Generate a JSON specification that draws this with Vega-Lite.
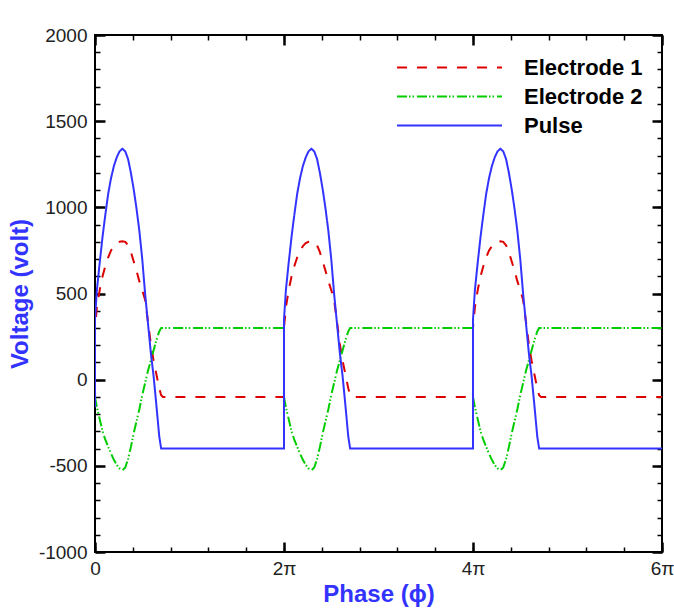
{
  "$schema": "https://vega.github.io/schema/vega-lite/v6.json",
  "width": 567,
  "height": 517,
  "autosize": {"type": "none"},
  "padding": {"left": 95, "top": 35, "right": 12, "bottom": 64},
  "background": "white",
  "config": {
    "view": {"stroke": "black", "strokeWidth": 2},
    "axis": {"grid": false, "domain": false, "tickColor": "black", "tickWidth": 2.5, "labelFlush": false,
      "labelFont": "Liberation Sans", "labelFontSize": 19, "labelColor": "#222"}
  },
  "data": {"values": [
    {"i": 0, "phase": 0, "Electrode 1": -100, "Electrode 2": -100, "Pulse": -160},
    {"i": 1, "phase": 0, "Electrode 1": 300, "Electrode 2": -100, "Pulse": 350},
    {"i": 2, "phase": 0.02, "Electrode 1": 420, "Electrode 2": -160, "Pulse": 520},
    {"i": 3, "phase": 0.05, "Electrode 1": 520, "Electrode 2": -230, "Pulse": 680},
    {"i": 4, "phase": 0.08, "Electrode 1": 600, "Electrode 2": -300, "Pulse": 830},
    {"i": 5, "phase": 0.11, "Electrode 1": 660, "Electrode 2": -350, "Pulse": 960},
    {"i": 6, "phase": 0.14, "Electrode 1": 710, "Electrode 2": -390, "Pulse": 1080},
    {"i": 7, "phase": 0.17, "Electrode 1": 750, "Electrode 2": -430, "Pulse": 1170},
    {"i": 8, "phase": 0.20, "Electrode 1": 775, "Electrode 2": -465, "Pulse": 1240},
    {"i": 9, "phase": 0.23, "Electrode 1": 792, "Electrode 2": -495, "Pulse": 1290},
    {"i": 10, "phase": 0.26, "Electrode 1": 800, "Electrode 2": -515, "Pulse": 1325},
    {"i": 11, "phase": 0.29, "Electrode 1": 803, "Electrode 2": -526, "Pulse": 1340},
    {"i": 12, "phase": 0.32, "Electrode 1": 800, "Electrode 2": -510, "Pulse": 1325},
    {"i": 13, "phase": 0.35, "Electrode 1": 780, "Electrode 2": -460, "Pulse": 1280},
    {"i": 14, "phase": 0.38, "Electrode 1": 740, "Electrode 2": -390, "Pulse": 1200},
    {"i": 15, "phase": 0.41, "Electrode 1": 686, "Electrode 2": -310, "Pulse": 1103},
    {"i": 16, "phase": 0.44, "Electrode 1": 630, "Electrode 2": -240, "Pulse": 990},
    {"i": 17, "phase": 0.47, "Electrode 1": 570, "Electrode 2": -170, "Pulse": 860},
    {"i": 18, "phase": 0.50, "Electrode 1": 520, "Electrode 2": -90, "Pulse": 700},
    {"i": 19, "phase": 0.53, "Electrode 1": 464, "Electrode 2": -20, "Pulse": 500},
    {"i": 20, "phase": 0.56, "Electrode 1": 340, "Electrode 2": 50, "Pulse": 330},
    {"i": 21, "phase": 0.59, "Electrode 1": 210, "Electrode 2": 110, "Pulse": 160},
    {"i": 22, "phase": 0.62, "Electrode 1": 110, "Electrode 2": 170, "Pulse": 20},
    {"i": 23, "phase": 0.65, "Electrode 1": 30, "Electrode 2": 230, "Pulse": -150},
    {"i": 24, "phase": 0.68, "Electrode 1": -50, "Electrode 2": 280, "Pulse": -330},
    {"i": 25, "phase": 0.70, "Electrode 1": -90, "Electrode 2": 300, "Pulse": -400},
    {"i": 26, "phase": 0.72, "Electrode 1": -100, "Electrode 2": 300, "Pulse": -400},
    {"i": 27, "phase": 2, "Electrode 1": -100, "Electrode 2": 300, "Pulse": -400},
    {"i": 28, "phase": 2, "Electrode 1": 300, "Electrode 2": -100, "Pulse": 350},
    {"i": 29, "phase": 2.02, "Electrode 1": 420, "Electrode 2": -160, "Pulse": 520},
    {"i": 30, "phase": 2.05, "Electrode 1": 520, "Electrode 2": -230, "Pulse": 680},
    {"i": 31, "phase": 2.08, "Electrode 1": 600, "Electrode 2": -300, "Pulse": 830},
    {"i": 32, "phase": 2.11, "Electrode 1": 660, "Electrode 2": -350, "Pulse": 960},
    {"i": 33, "phase": 2.14, "Electrode 1": 710, "Electrode 2": -390, "Pulse": 1080},
    {"i": 34, "phase": 2.17, "Electrode 1": 750, "Electrode 2": -430, "Pulse": 1170},
    {"i": 35, "phase": 2.20, "Electrode 1": 775, "Electrode 2": -465, "Pulse": 1240},
    {"i": 36, "phase": 2.23, "Electrode 1": 792, "Electrode 2": -495, "Pulse": 1290},
    {"i": 37, "phase": 2.26, "Electrode 1": 800, "Electrode 2": -515, "Pulse": 1325},
    {"i": 38, "phase": 2.29, "Electrode 1": 803, "Electrode 2": -526, "Pulse": 1340},
    {"i": 39, "phase": 2.32, "Electrode 1": 800, "Electrode 2": -510, "Pulse": 1325},
    {"i": 40, "phase": 2.35, "Electrode 1": 780, "Electrode 2": -460, "Pulse": 1280},
    {"i": 41, "phase": 2.38, "Electrode 1": 740, "Electrode 2": -390, "Pulse": 1200},
    {"i": 42, "phase": 2.41, "Electrode 1": 686, "Electrode 2": -310, "Pulse": 1103},
    {"i": 43, "phase": 2.44, "Electrode 1": 630, "Electrode 2": -240, "Pulse": 990},
    {"i": 44, "phase": 2.47, "Electrode 1": 570, "Electrode 2": -170, "Pulse": 860},
    {"i": 45, "phase": 2.50, "Electrode 1": 520, "Electrode 2": -90, "Pulse": 700},
    {"i": 46, "phase": 2.53, "Electrode 1": 464, "Electrode 2": -20, "Pulse": 500},
    {"i": 47, "phase": 2.56, "Electrode 1": 340, "Electrode 2": 50, "Pulse": 330},
    {"i": 48, "phase": 2.59, "Electrode 1": 210, "Electrode 2": 110, "Pulse": 160},
    {"i": 49, "phase": 2.62, "Electrode 1": 110, "Electrode 2": 170, "Pulse": 20},
    {"i": 50, "phase": 2.65, "Electrode 1": 30, "Electrode 2": 230, "Pulse": -150},
    {"i": 51, "phase": 2.68, "Electrode 1": -50, "Electrode 2": 280, "Pulse": -330},
    {"i": 52, "phase": 2.70, "Electrode 1": -90, "Electrode 2": 300, "Pulse": -400},
    {"i": 53, "phase": 2.72, "Electrode 1": -100, "Electrode 2": 300, "Pulse": -400},
    {"i": 54, "phase": 4, "Electrode 1": -100, "Electrode 2": 300, "Pulse": -400},
    {"i": 55, "phase": 4, "Electrode 1": 300, "Electrode 2": -100, "Pulse": 350},
    {"i": 56, "phase": 4.02, "Electrode 1": 420, "Electrode 2": -160, "Pulse": 520},
    {"i": 57, "phase": 4.05, "Electrode 1": 520, "Electrode 2": -230, "Pulse": 680},
    {"i": 58, "phase": 4.08, "Electrode 1": 600, "Electrode 2": -300, "Pulse": 830},
    {"i": 59, "phase": 4.11, "Electrode 1": 660, "Electrode 2": -350, "Pulse": 960},
    {"i": 60, "phase": 4.14, "Electrode 1": 710, "Electrode 2": -390, "Pulse": 1080},
    {"i": 61, "phase": 4.17, "Electrode 1": 750, "Electrode 2": -430, "Pulse": 1170},
    {"i": 62, "phase": 4.20, "Electrode 1": 775, "Electrode 2": -465, "Pulse": 1240},
    {"i": 63, "phase": 4.23, "Electrode 1": 792, "Electrode 2": -495, "Pulse": 1290},
    {"i": 64, "phase": 4.26, "Electrode 1": 800, "Electrode 2": -515, "Pulse": 1325},
    {"i": 65, "phase": 4.29, "Electrode 1": 803, "Electrode 2": -526, "Pulse": 1340},
    {"i": 66, "phase": 4.32, "Electrode 1": 800, "Electrode 2": -510, "Pulse": 1325},
    {"i": 67, "phase": 4.35, "Electrode 1": 780, "Electrode 2": -460, "Pulse": 1280},
    {"i": 68, "phase": 4.38, "Electrode 1": 740, "Electrode 2": -390, "Pulse": 1200},
    {"i": 69, "phase": 4.41, "Electrode 1": 686, "Electrode 2": -310, "Pulse": 1103},
    {"i": 70, "phase": 4.44, "Electrode 1": 630, "Electrode 2": -240, "Pulse": 990},
    {"i": 71, "phase": 4.47, "Electrode 1": 570, "Electrode 2": -170, "Pulse": 860},
    {"i": 72, "phase": 4.50, "Electrode 1": 520, "Electrode 2": -90, "Pulse": 700},
    {"i": 73, "phase": 4.53, "Electrode 1": 464, "Electrode 2": -20, "Pulse": 500},
    {"i": 74, "phase": 4.56, "Electrode 1": 340, "Electrode 2": 50, "Pulse": 330},
    {"i": 75, "phase": 4.59, "Electrode 1": 210, "Electrode 2": 110, "Pulse": 160},
    {"i": 76, "phase": 4.62, "Electrode 1": 110, "Electrode 2": 170, "Pulse": 20},
    {"i": 77, "phase": 4.65, "Electrode 1": 30, "Electrode 2": 230, "Pulse": -150},
    {"i": 78, "phase": 4.68, "Electrode 1": -50, "Electrode 2": 280, "Pulse": -330},
    {"i": 79, "phase": 4.70, "Electrode 1": -90, "Electrode 2": 300, "Pulse": -400},
    {"i": 80, "phase": 4.72, "Electrode 1": -100, "Electrode 2": 300, "Pulse": -400},
    {"i": 81, "phase": 6, "Electrode 1": -100, "Electrode 2": 300, "Pulse": -400}
  ]},
  "resolve": {"axis": {"x": "independent", "y": "independent"}},
  "layer": [
    {
      "transform": [{"fold": ["Electrode 1", "Electrode 2", "Pulse"], "as": ["series", "volt"]}],
      "mark": {"type": "line", "strokeWidth": 2, "clip": true},
      "encoding": {
        "x": {"field": "phase", "type": "quantitative",
          "scale": {"domain": [0, 6], "nice": false, "zero": false},
          "axis": {"orient": "bottom", "values": [0, 2, 4, 6], "ticks": false, "labelPadding": 7,
            "labelExpr": "datum.value == 0 ? '0' : datum.value + 'π'",
            "title": "Phase (ϕ)", "titleFont": "Liberation Sans", "titleFontSize": 24, "titleFontWeight": "bold",
            "titleColor": "#3333ff", "titlePadding": 4}},
        "y": {"field": "volt", "type": "quantitative",
          "scale": {"domain": [-1000, 2000], "nice": false, "zero": false},
          "axis": {"orient": "left", "values": [-1000, -500, 0, 500, 1000, 1500, 2000], "ticks": false, "labelPadding": 8,
            "labelExpr": "'' + datum.value",
            "title": "Voltage (volt)", "titleFont": "Liberation Sans", "titleFontSize": 24, "titleFontWeight": "bold",
            "titleColor": "#3333ff", "titlePadding": 6}},
        "color": {"field": "series", "type": "nominal",
          "scale": {"domain": ["Electrode 1", "Electrode 2", "Pulse"], "range": ["#dd0000", "#00cc00", "#3333ff"]},
          "legend": {"orient": "none", "legendX": 343, "legendY": 21, "title": null, "padding": 0,
            "symbolType": "M-5,0H5", "symbolSize": 441, "symbolStrokeWidth": 2,
            "labelFont": "Liberation Sans", "labelFontWeight": "bold", "labelFontSize": 22, "labelColor": "black",
            "labelOffset": 63, "rowPadding": 6}},
        "strokeDash": {"field": "series", "type": "nominal",
          "scale": {"domain": ["Electrode 1", "Electrode 2", "Pulse"], "range": [[10, 10], [10, 2, 1.5, 2, 1.5, 3], [1, 0]]},
          "legend": {"orient": "none", "legendX": 343, "legendY": 21, "title": null, "padding": 0,
            "symbolType": "M-5,0H5", "symbolSize": 441, "symbolStrokeWidth": 2,
            "labelFont": "Liberation Sans", "labelFontWeight": "bold", "labelFontSize": 22, "labelColor": "black",
            "labelOffset": 63, "rowPadding": 6}},
        "order": {"field": "i", "type": "quantitative"}
      }
    },
    {
      "mark": {"type": "point", "opacity": 0, "size": 1},
      "encoding": {
        "x": {"field": "phase", "type": "quantitative", "scale": {"domain": [0, 6], "nice": false, "zero": false},
          "axis": {"orient": "bottom", "values": [0, 2, 4, 6], "tickSize": -10, "labels": false, "title": null}},
        "y": {"field": "Pulse", "type": "quantitative", "scale": {"domain": [-1000, 2000], "nice": false, "zero": false},
          "axis": {"orient": "left", "values": [-1000, -500, 0, 500, 1000, 1500, 2000], "tickSize": -10, "labels": false, "title": null}}
      }
    },
    {
      "mark": {"type": "point", "opacity": 0, "size": 1},
      "encoding": {
        "x": {"field": "phase", "type": "quantitative", "scale": {"domain": [0, 6], "nice": false, "zero": false},
          "axis": {"orient": "bottom", "values": [0, 0.4, 0.8, 1.2, 1.6, 2, 2.4, 2.8, 3.2, 3.6, 4, 4.4, 4.8, 5.2, 5.6, 6], "tickSize": -5, "tickWidth": 1.5, "labels": false, "title": null}},
        "y": {"field": "Pulse", "type": "quantitative", "scale": {"domain": [-1000, 2000], "nice": false, "zero": false},
          "axis": {"orient": "left", "values": [-1000, -900, -800, -700, -600, -500, -400, -300, -200, -100, 0, 100, 200, 300, 400, 500, 600, 700, 800, 900, 1000, 1100, 1200, 1300, 1400, 1500, 1600, 1700, 1800, 1900, 2000], "tickSize": -5, "tickWidth": 1.5, "labels": false, "title": null}}
      }
    },
    {
      "mark": {"type": "point", "opacity": 0, "size": 1},
      "encoding": {
        "x": {"field": "phase", "type": "quantitative", "scale": {"domain": [0, 6], "nice": false, "zero": false},
          "axis": {"orient": "top", "values": [0, 2, 4, 6], "tickSize": -10, "labels": false, "title": null}},
        "y": {"field": "Pulse", "type": "quantitative", "scale": {"domain": [-1000, 2000], "nice": false, "zero": false},
          "axis": {"orient": "right", "values": [-1000, -500, 0, 500, 1000, 1500, 2000], "tickSize": -10, "labels": false, "title": null}}
      }
    },
    {
      "mark": {"type": "point", "opacity": 0, "size": 1},
      "encoding": {
        "x": {"field": "phase", "type": "quantitative", "scale": {"domain": [0, 6], "nice": false, "zero": false},
          "axis": {"orient": "top", "values": [0, 0.4, 0.8, 1.2, 1.6, 2, 2.4, 2.8, 3.2, 3.6, 4, 4.4, 4.8, 5.2, 5.6, 6], "tickSize": -5, "tickWidth": 1.5, "labels": false, "title": null}},
        "y": {"field": "Pulse", "type": "quantitative", "scale": {"domain": [-1000, 2000], "nice": false, "zero": false},
          "axis": {"orient": "right", "values": [-1000, -900, -800, -700, -600, -500, -400, -300, -200, -100, 0, 100, 200, 300, 400, 500, 600, 700, 800, 900, 1000, 1100, 1200, 1300, 1400, 1500, 1600, 1700, 1800, 1900, 2000], "tickSize": -5, "tickWidth": 1.5, "labels": false, "title": null}}
      }
    }
  ]
}
